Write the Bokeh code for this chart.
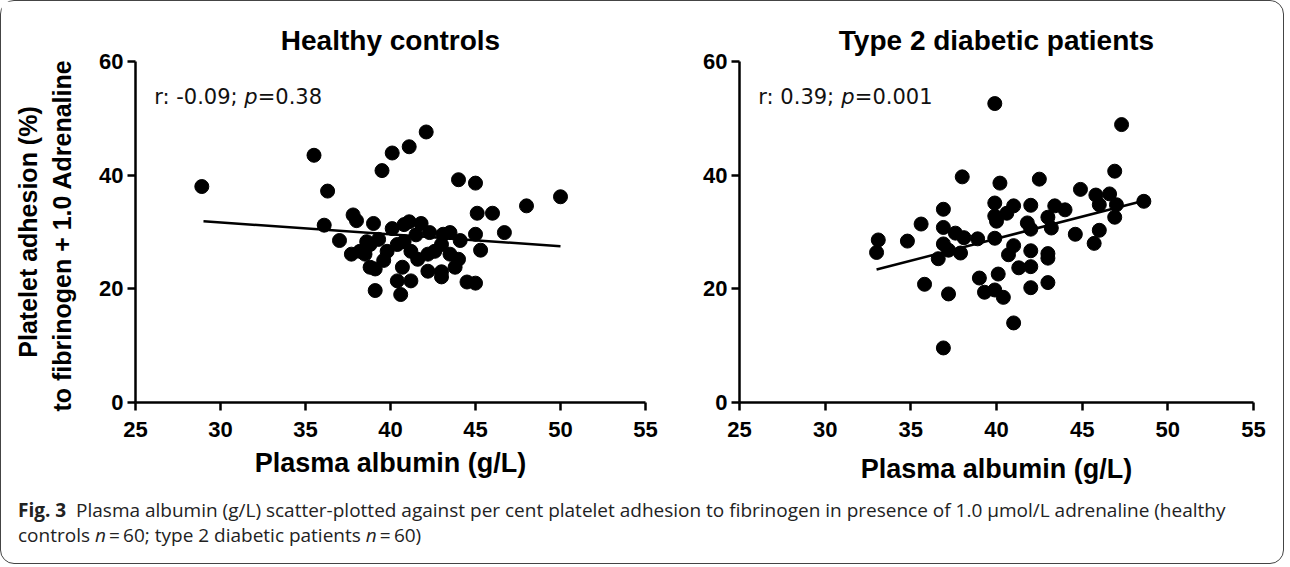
from bokeh.plotting import figure
from bokeh.models import Range1d, Label, Div, FixedTicker
from bokeh.layouts import row, column
from bokeh.embed import file_html
from bokeh.resources import INLINE

# ---------------- data ----------------
x_ticks = [25, 30, 35, 40, 45, 50, 55]
y_ticks = [0, 20, 40, 60]

hc_albumin = [28.9, 35.5, 36.3, 36.1, 37.0, 37.8, 38.0, 37.7, 38.2, 38.8, 38.8, 39.0, 39.5, 40.1, 41.1,
              42.1, 44.0, 45.0, 50.0, 48.0, 45.1, 46.0, 46.7, 40.1, 40.8, 41.1, 41.8, 42.3, 43.1, 43.5,
              44.1, 45.0, 45.3, 38.6, 39.3, 38.5, 39.8, 40.4, 40.8, 41.2, 41.6, 42.2, 42.6, 43.0, 43.5,
              44.0, 43.8, 43.0, 43.0, 42.2, 40.7, 41.2, 40.4, 39.1, 39.1, 40.6, 44.5, 45.0, 41.5, 39.6]
hc_adhesion = [38.0, 43.5, 37.2, 31.2, 28.5, 33.0, 32.0, 26.1, 26.6, 27.8, 23.8, 31.5, 40.8, 43.9, 45.0,
               47.6, 39.2, 38.6, 36.2, 34.6, 33.3, 33.3, 29.9, 30.6, 31.3, 31.8, 31.5, 29.9, 29.6, 29.9,
               28.5, 29.6, 26.8, 28.3, 28.7, 26.1, 26.6, 27.8, 28.3, 26.6, 25.2, 26.1, 26.6, 27.8, 26.1,
               25.2, 23.8, 23.0, 22.1, 23.1, 23.8, 21.4, 21.4, 23.5, 19.7, 19.0, 21.2, 21.0, 29.5, 25.0]
hc_fit_x = [29.0, 50.0]
hc_fit_y = [31.9, 27.5]

t2_albumin = [33.1, 33.0, 34.8, 35.6, 36.9, 36.9, 37.6, 38.1, 36.9, 37.2, 36.6, 37.9, 38.9, 38.0, 35.8,
              37.2, 39.0, 39.3, 36.9, 39.9, 47.3, 46.9, 40.2, 42.5, 44.9, 45.8, 46.6, 48.6, 46.0, 47.0,
              46.9, 39.9, 41.0, 42.0, 43.4, 44.0, 39.9, 40.0, 40.6, 43.0, 41.8, 43.2, 42.0, 44.6, 46.0,
              45.7, 39.9, 41.0, 42.0, 43.0, 43.0, 40.7, 41.3, 42.0, 40.1, 39.9, 40.4, 42.0, 43.0, 41.0]
t2_adhesion = [28.6, 26.4, 28.4, 31.4, 34.0, 30.8, 29.8, 29.0, 27.9, 26.8, 25.3, 26.3, 28.8, 39.7, 20.8,
               19.1, 21.9, 19.4, 9.6, 52.6, 48.9, 40.7, 38.6, 39.3, 37.5, 36.5, 36.7, 35.4, 34.8, 34.8,
               32.6, 35.1, 34.6, 34.7, 34.6, 33.9, 32.8, 31.9, 33.3, 32.6, 31.6, 30.7, 30.5, 29.6, 30.3,
               28.0, 28.9, 27.6, 26.7, 26.2, 25.4, 26.0, 23.7, 23.9, 22.6, 19.8, 18.5, 20.2, 21.1, 14.0]
t2_fit_x = [33.0, 48.6]
t2_fit_y = [23.4, 35.5]

titles = ["Healthy controls", "Type 2 diabetic patients"]
stats = [("r: -0.09; ", "p", "=0.38"), ("r: 0.39; ", "p", "=0.001")]
x_label = "Plasma albumin (g/L)"
y_label = "Platelet adhesion (%)\nto fibrinogen + 1.0  Adrenaline"

FONT = "Liberation Sans"


def make_panel(xs, ys, fx, fy, title, stat, stat_offs, width, height, mb, show_ylabel, xlab_standoff):
    p = figure(width=width, height=height, output_backend="svg", toolbar_location=None,
               x_range=Range1d(25, 55), y_range=Range1d(0, 60),
               min_border_left=mb[0], min_border_right=mb[1],
               min_border_top=mb[2], min_border_bottom=mb[3])
    p.outline_line_color = None
    p.grid.grid_line_color = None
    p.background_fill_color = "white"
    p.border_fill_color = "white"

    p.title.text = title
    p.title.align = "center"
    p.title.text_font = FONT
    p.title.text_font_style = "bold"
    p.title.text_font_size = "28px"
    p.title.text_color = "black"
    p.title.standoff = 12

    for ax in (p.xaxis[0], p.yaxis[0]):
        ax.axis_line_width = 2.5
        ax.axis_line_color = "black"
        ax.major_tick_line_width = 2.5
        ax.major_tick_line_color = "black"
        ax.major_tick_out = 8
        ax.major_tick_in = 0
        ax.minor_tick_line_color = None
        ax.major_label_text_font = FONT
        ax.major_label_text_font_style = "bold"
        ax.major_label_text_font_size = "22px"
        ax.major_label_text_color = "black"
        ax.axis_label_text_font = FONT
        ax.axis_label_text_font_style = "bold"
        ax.axis_label_text_color = "black"

    p.xaxis.ticker = FixedTicker(ticks=x_ticks)
    p.yaxis.ticker = FixedTicker(ticks=y_ticks)
    p.xaxis.major_label_standoff = 11
    p.yaxis.major_label_standoff = 4
    p.xaxis.axis_label = x_label
    p.xaxis.axis_label_text_font_size = "27px"
    p.xaxis.axis_label_standoff = xlab_standoff
    if show_ylabel:
        p.yaxis.axis_label = y_label
        p.yaxis.axis_label_text_font_size = "25px"
        p.yaxis.axis_label_standoff = 20

    p.line(fx, fy, line_color="black", line_width=2.5)
    p.scatter(xs, ys, size=14, fill_color="black", line_color="black", marker="circle")

    styles = ["normal", "italic", "normal"]
    for t, o, s in zip(stat, stat_offs, styles):
        p.add_layout(Label(x=26.1, y=53.7, x_offset=o, text=t, text_font="DejaVu Sans",
                           text_font_size="21px", text_font_style=s, text_color="#111",
                           text_baseline="alphabetic", text_align="left"))
    return p


p1 = make_panel(hc_albumin, hc_adhesion, hc_fit_x, hc_fit_y, titles[0], stats[0], (0, 90, 103.5),
                690, 490, (134, 46, 56, 89), True, 8)
p2 = make_panel(t2_albumin, t2_adhesion, t2_fit_x, t2_fit_y, titles[1], stats[1], (0, 83, 96.5),
                582, 490, (48, 20, 60, 86), False, 14)

caption = Div(
    text=("<b>Fig. 3</b>&nbsp; Plasma albumin (g/L) scatter-plotted against per cent platelet adhesion "
          "to fibrinogen in presence of 1.0 &mu;mol/L adrenaline (healthy<br>controls <i>n</i>&thinsp;=&thinsp;60; "
          "type 2 diabetic patients <i>n</i>&thinsp;=&thinsp;60)"),
    width=1272, height=62,
    styles={"font-family": "Open Sans", "font-size": "19px", "color": "#222",
            "line-height": "25px", "padding-left": "12px", "padding-top": "2px",
            "white-space": "nowrap"})

layout = column(row(p1, p2), caption,
                styles={"border": "1.5px solid #444", "border-radius": "14px",
                        "background": "white"})

open("out.html", "w").write(file_html(layout, INLINE))
